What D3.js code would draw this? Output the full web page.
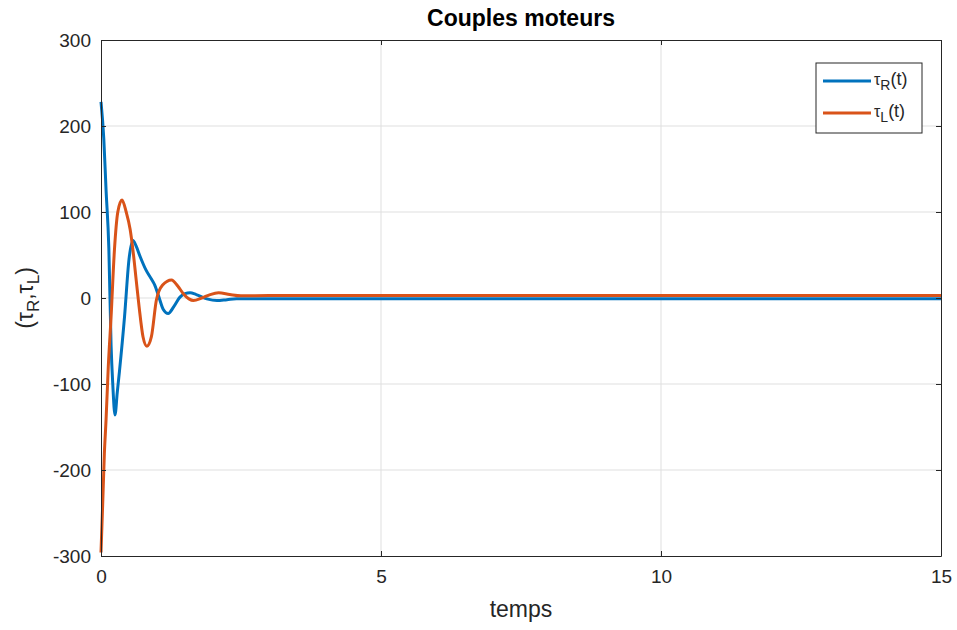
<!DOCTYPE html>
<html>
<head>
<meta charset="utf-8">
<script src="https://cdn.jsdelivr.net/npm/d3@7"></script>
<style>
  body { margin: 0; background: #fff; }
  svg { font-family: Helvetica, Arial, "Liberation Sans", sans-serif; }
</style>
</head>
<body>
<svg id="chart" width="957" height="630"></svg>
<script>
// couples moteurs – tau_R / tau_L vs temps

const tauR_t = [0, 0.05, 0.09, 0.14, 0.18, 0.21, 0.25, 0.29, 0.33, 0.42, 0.5, 0.57, 0.63, 0.7, 0.8, 0.9, 0.96, 1.03, 1.11, 1.2, 1.3, 1.41, 1.5, 1.59, 1.7, 1.89, 2.07, 2.25, 2.42, 3, 4, 6, 10, 15];
const tauR_v = [228, 185, 126, 58, -55, -100, -136, -110, -85, -22, 45, 67, 60, 48, 33, 22, 15, 2, -13, -18, -10, 1, 5, 6, 4, -1, -3, -2, -1, -1, -1, -1, -1, -1];

const tauL_t = [0, 0.03, 0.06, 0.09, 0.13, 0.18, 0.24, 0.3, 0.375, 0.45, 0.52, 0.57, 0.63, 0.68, 0.75, 0.82, 0.9, 0.99, 1.1, 1.26, 1.37, 1.47, 1.57, 1.65, 1.8, 1.95, 2.1, 2.3, 2.5, 3, 4, 6, 10, 15];
const tauL_v = [-296, -240, -181, -142, -80, -22, 56, 100, 114, 100, 80, 56, 20, -10, -45, -56, -45, -2, 15, 21, 14, 5, -1, -3, 0, 4, 6, 4, 2.5, 3, 3, 3, 3, 3];

const xTicks = [0, 5, 10, 15];
const yTicks = [-300, -200, -100, 0, 100, 200, 300];

const seriesNames = ["R", "L"];
const colors = ["#0072BD", "#D95319"];

const margin = { top: 40, right: 16, bottom: 74, left: 101 };
const innerW = 941 - margin.left;
const innerH = 556 - margin.top;

const svg = d3.select("#chart");
const g = svg.append("g").attr("transform", `translate(${margin.left},${margin.top})`);

const x = d3.scaleLinear().domain([0, 15]).range([0, innerW]);
const y = d3.scaleLinear().domain([-300, 300]).range([innerH, 0]);

// grid
g.append("g").selectAll("line").data(xTicks.slice(1, -1)).join("line")
  .attr("x1", d => x(d)).attr("x2", d => x(d))
  .attr("y1", 0).attr("y2", innerH)
  .attr("stroke", "#dfdfdf").attr("stroke-width", 1);
g.append("g").selectAll("line").data(yTicks.slice(1, -1)).join("line")
  .attr("y1", d => y(d)).attr("y2", d => y(d))
  .attr("x1", 0).attr("x2", innerW)
  .attr("stroke", "#dfdfdf").attr("stroke-width", 1);

// lines
const series = [
  tauR_t.map((t, i) => [t, tauR_v[i]]),
  tauL_t.map((t, i) => [t, tauL_v[i]]),
];
const line = d3.line().x(d => x(d[0])).y(d => y(d[1])).curve(d3.curveMonotoneX);

g.append("g").selectAll("path").data(series).join("path")
  .attr("d", line)
  .attr("fill", "none")
  .attr("stroke", (d, i) => colors[i])
  .attr("stroke-width", 3)
  .attr("stroke-linejoin", "round");

// axes (box on, ticks inward)
const axisColor = "#262626";
const fmt = d => String(d); // plain hyphen minus like matlab
const xAxisB = d3.axisBottom(x).tickValues(xTicks).tickFormat(fmt).tickSizeInner(-5).tickSizeOuter(0).tickPadding(14);
const yAxisL = d3.axisLeft(y).tickValues(yTicks).tickFormat(fmt).tickSizeInner(-5).tickSizeOuter(0).tickPadding(10);

const gx = g.append("g").attr("transform", `translate(0,${innerH})`).call(xAxisB);
const gy = g.append("g").call(yAxisL);
g.append("g").call(d3.axisTop(x).tickValues(xTicks).tickSizeInner(-5).tickSizeOuter(0).tickFormat(""));
g.append("g").attr("transform", `translate(${innerW},0)`)
  .call(d3.axisRight(y).tickValues(yTicks).tickSizeInner(-5).tickSizeOuter(0).tickFormat(""));

g.selectAll(".domain").attr("stroke", axisColor).attr("stroke-width", 1);
g.selectAll(".tick line").attr("stroke", axisColor);
g.selectAll(".tick text")
  .attr("fill", axisColor)
  .style("font-size", "19px")
  .style("font-family", "Helvetica, Arial, 'Liberation Sans', sans-serif");
gx.selectAll(".tick text").attr("dy", "0.71em");

// title
svg.append("text")
  .attr("x", margin.left + innerW / 2).attr("y", 26)
  .attr("text-anchor", "middle")
  .attr("font-weight", "bold")
  .attr("font-size", "23px")
  .attr("fill", "#000")
  .text("Couples moteurs");

// x label
svg.append("text")
  .attr("x", margin.left + innerW / 2).attr("y", 617)
  .attr("text-anchor", "middle")
  .attr("font-size", "23px")
  .attr("fill", axisColor)
  .text("temps");

// y label
const yl = svg.append("text")
  .attr("transform", `translate(33,${margin.top + innerH / 2}) rotate(-90)`)
  .attr("text-anchor", "middle")
  .attr("font-size", "23px")
  .attr("fill", axisColor);
yl.append("tspan").text("(τ");
yl.append("tspan").attr("font-size", "17px").attr("dy", 6).text("R");
yl.append("tspan").attr("dy", -6).text(",τ");
yl.append("tspan").attr("font-size", "17px").attr("dy", 6).text("L");
yl.append("tspan").attr("dy", -6).text(")");

// legend
const lg = svg.append("g").attr("transform", "translate(816,63)");
lg.append("rect")
  .attr("width", 106).attr("height", 70)
  .attr("fill", "#fff").attr("stroke", axisColor).attr("stroke-width", 1);

seriesNames.forEach((name, i) => {
  const yy = 18 + i * 32;
  lg.append("line")
    .attr("x1", 7).attr("x2", 55)
    .attr("y1", yy).attr("y2", yy)
    .attr("stroke", colors[i]).attr("stroke-width", 3);
  const t = lg.append("text")
    .attr("x", 58).attr("y", yy + 4)
    .attr("font-size", "18px")
    .attr("fill", axisColor);
  t.append("tspan").attr("font-size", "16px").text("τ");
  t.append("tspan").attr("font-size", "14px").attr("dy", 5).text(name);
  t.append("tspan").attr("dy", -5).text("(t)");
});
</script>
</body>
</html>
